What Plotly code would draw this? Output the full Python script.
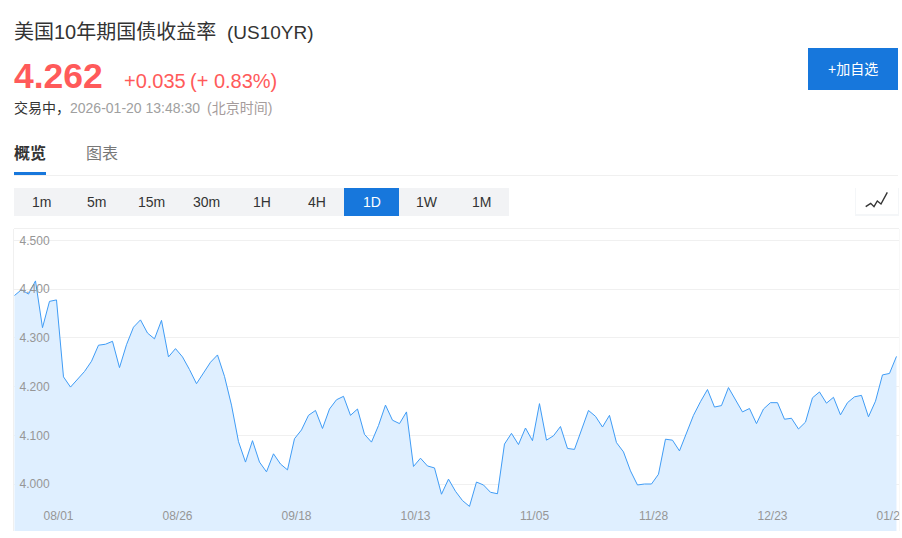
import plotly.graph_objects as go

W, H = 902, 538
PLOT_L, PLOT_R, PLOT_T, PLOT_B = 14, 899, 229, 531

dates = (
    ["07/24", "07/25", "07/28", "07/29", "07/30", "07/31", "08/01"]
    + ["08/04", "08/05", "08/06", "08/07", "08/08", "08/11", "08/12", "08/13", "08/14", "08/15",
       "08/18", "08/19", "08/20", "08/21", "08/22", "08/25", "08/26", "08/27", "08/28", "08/29"]
    + ["09/01", "09/02", "09/03", "09/04", "09/05", "09/08", "09/09", "09/10", "09/11", "09/12",
       "09/15", "09/16", "09/17", "09/18", "09/19", "09/22", "09/23", "09/24", "09/25", "09/26",
       "09/29", "09/30"]
    + ["10/01", "10/02", "10/03", "10/06", "10/07", "10/08", "10/09", "10/10", "10/13", "10/14",
       "10/15", "10/16", "10/17", "10/20", "10/21", "10/22", "10/23", "10/24", "10/27", "10/28",
       "10/29", "10/30", "10/31"]
    + ["11/03", "11/04", "11/05", "11/06", "11/07", "11/10", "11/11", "11/12", "11/13", "11/14",
       "11/17", "11/18", "11/19", "11/20", "11/21", "11/24", "11/25", "11/26", "11/27", "11/28"]
    + ["12/01", "12/02", "12/03", "12/04", "12/05", "12/08", "12/09", "12/10", "12/11", "12/12",
       "12/15", "12/16", "12/17", "12/18", "12/19", "12/22", "12/23", "12/24", "12/26", "12/29",
       "12/30", "12/31"]
    + ["01/02", "01/05", "01/06", "01/07", "01/08", "01/09", "01/12", "01/13", "01/14", "01/15",
       "01/16", "01/20", "01/20 13:48"]
)

yields = [
    4.387, 4.399, 4.390, 4.417, 4.321, 4.375, 4.378, 4.220, 4.199, 4.215,
    4.231, 4.252, 4.285, 4.287, 4.293, 4.239, 4.286, 4.322, 4.337, 4.310,
    4.298, 4.336, 4.261, 4.278, 4.261, 4.235, 4.206, 4.228, 4.250, 4.265,
    4.221, 4.162, 4.087, 4.045, 4.089, 4.045, 4.025, 4.062, 4.041, 4.029,
    4.093, 4.111, 4.141, 4.151, 4.114, 4.154, 4.173, 4.180, 4.141, 4.154,
    4.102, 4.086, 4.120, 4.162, 4.131, 4.124, 4.148, 4.036, 4.053, 4.037,
    4.033, 3.979, 4.010, 3.985, 3.966, 3.954, 4.004, 3.998, 3.983, 3.980,
    4.082, 4.104, 4.081, 4.115, 4.089, 4.165, 4.090, 4.099, 4.118, 4.073,
    4.071, 4.111, 4.151, 4.139, 4.117, 4.141, 4.085, 4.066, 4.027, 3.998,
    4.000, 4.000, 4.020, 4.092, 4.090, 4.068, 4.104, 4.141, 4.169, 4.194,
    4.158, 4.161, 4.198, 4.173, 4.148, 4.155, 4.124, 4.154, 4.167, 4.167,
    4.133, 4.135, 4.113, 4.127, 4.177, 4.189, 4.166, 4.178, 4.142, 4.167,
    4.179, 4.182, 4.138, 4.170, 4.224, 4.227, 4.262,
]

tick_dates = ["08/01", "08/26", "09/18", "10/13", "11/05", "11/28", "12/23", "01/20"]
y_ticks = [4.0, 4.1, 4.2, 4.3, 4.4, 4.5]
periods = ["1m", "5m", "15m", "30m", "1H", "4H", "1D", "1W", "1M"]
active_period = "1D"

LATIN_CJK = "Liberation Sans, Arial, Noto Sans CJK SC, sans-serif"
BLUE = "#1777dc"
RED = "#ff5a5a"


def px(x):
    return (x - PLOT_L) / (PLOT_R - PLOT_L)


def py(y):
    return (PLOT_B - y) / (PLOT_B - PLOT_T)


def rect(x0, y0, x1, y1, fill, line=None):
    return dict(type="rect", xref="paper", yref="paper", x0=px(x0), x1=px(x1), y0=py(y0), y1=py(y1),
                fillcolor=fill, line=dict(color=line or fill, width=1 if line else 0), layer="above")


def hline(x0, x1, y, color="#f0f0f0"):
    return dict(type="line", xref="paper", yref="paper", x0=px(x0), x1=px(x1), y0=py(y), y1=py(y),
                line=dict(color=color, width=1), layer="above")


def text(s, x, y, size, color, anchor="left", bold=False):
    return dict(text=f"<b>{s}</b>" if bold else s, x=px(x - 2 if anchor == "left" else x), y=py(y),
                xref="paper", yref="paper",
                xanchor=anchor, yanchor="middle", showarrow=False,
                font=dict(size=size, color=color, family=LATIN_CJK))


fig = go.Figure(go.Scatter(
    x=dates, y=yields, mode="lines",
    line=dict(color="#3f9cf6", width=1),
    fill="tozeroy", fillcolor="#dfefff",
    hoverinfo="x+y",
))

shapes = [
    hline(14, 899, 228.5),
    rect(899.5, 225, 902, 538, "#ffffff"),
    hline(14, 898, 175.5),
    rect(14, 172, 46, 175, BLUE),
    rect(14, 188, 509, 216, "#f2f3f5"),
    rect(344, 188, 399, 216, BLUE),
    rect(808, 48, 898, 90, BLUE),
    rect(855, 188, 899, 216, "rgba(120,140,170,0.08)"),
    rect(856, 188, 898, 214, "#ffffff"),
    dict(type="path", xref="paper", yref="paper", layer="above",
         path="M{} {} L{} {} L{} {} L{} {} L{} {} L{} {}".format(
             px(865.7), py(206.7), px(870.7), py(203.3), px(874), py(206.7),
             px(877.3), py(201), px(881), py(204), px(887.3), py(192.3)),
         line=dict(color="#333333", width=1.4)),
]

annotations = [
    text("美国10年期国债收益率", 14, 32, 20, "#333333"),
    text("(US10YR)", 227, 32, 19, "#333333"),
    text("4.262", 14, 76, 35.5, RED, bold=True),
    text("+0.035", 124, 81, 20, RED),
    text("(+ 0.83%)", 190, 81, 20, RED),
    text("交易中，", 14, 108, 14, "#333333"),
    text("2026-01-20 13:48:30", 70, 108, 14, "#a0a0a0"),
    text("(北京时间)", 207, 108, 14, "#a59c9c"),
    text("概览", 14, 153, 16, "#333333", bold=True),
    text("图表", 86, 153, 16, "#777777"),
    text("+加自选", 853, 69, 14, "#ffffff", anchor="center"),
]
for i, p in enumerate(periods):
    annotations.append(text(p, 41.5 + 55 * i, 202, 14, "#ffffff" if p == active_period else "#333333",
                            anchor="center"))

fig.update_layout(
    width=W, height=H,
    margin=dict(l=PLOT_L, r=W - PLOT_R, t=PLOT_T, b=H - PLOT_B),
    paper_bgcolor="#ffffff", plot_bgcolor="#ffffff",
    showlegend=False,
    shapes=shapes, annotations=annotations,
    font=dict(family=LATIN_CJK),
    xaxis=dict(
        type="category", categoryorder="array", categoryarray=dates,
        range=[-0.07, 126.36], automargin=False,
        tickmode="array", tickvals=tick_dates, ticktext=tick_dates,
        ticklabelposition="inside", ticklabelstandoff=6, ticklabelshift=2,
        ticklabeloverflow="allow",
        tickfont=dict(size=12, color="#969696"),
        ticks="", showgrid=False, zeroline=False, showline=False,
    ),
    yaxis=dict(
        range=[3.9035, 4.5236], automargin=False,
        tickmode="array", tickvals=y_ticks, ticktext=[f"{v:.3f}" for v in y_ticks],
        ticklabelposition="inside", ticklabelstandoff=5,
        ticklabeloverflow="allow",
        tickfont=dict(size=12, color="#969696"),
        ticks="", showgrid=True, gridcolor="#f0f0f0", gridwidth=1,
        zeroline=False, showline=True, linecolor="#f0f0f0", linewidth=1, mirror=True,
    ),
)

fig.write_html("out.html", config=dict(displayModeBar=False, responsive=False),
               default_width=f"{W}px", default_height=f"{H}px",
               post_script="document.body.style.margin='0';")
